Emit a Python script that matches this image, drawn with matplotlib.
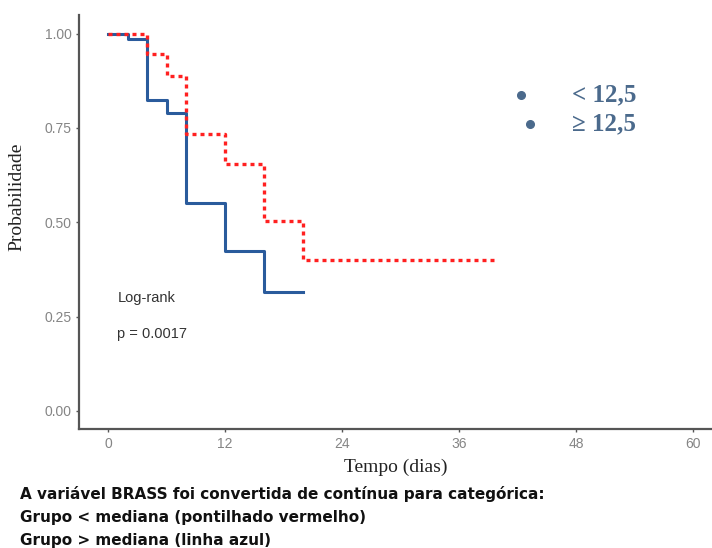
import numpy as np
import matplotlib.pyplot as plt

# Curvas de Kaplan-Meier (tempo em dias, probabilidade de sobrevida)
tempo_azul = [0, 2, 4, 6, 8, 12, 16, 20]
prob_azul = [1.0, 0.986, 0.825, 0.79, 0.55, 0.423, 0.316, 0.316]

tempo_verm = [0, 4, 6, 8, 12, 16, 20, 40]
prob_verm = [1.0, 0.947, 0.888, 0.734, 0.654, 0.503, 0.40, 0.40]

xticks = [0, 12, 24, 36, 48, 60]
yticks = [0.00, 0.25, 0.50, 0.75, 1.00]
legenda = ['< 12,5', '≥ 12,5']

fig = plt.figure(figsize=(7.12, 5.48), dpi=100)
ax = fig.add_axes([0.111, 0.217, 0.889, 0.756])

ax.step(tempo_azul, prob_azul, where='post', color='#2a5b9c', linewidth=2.2)
ax.step(tempo_verm, prob_verm, where='post', color='#ff2020', linewidth=2.4,
        linestyle=(0, (1.2, 1.2)))

ax.set_xlim(-2.97, 61.9)
ax.set_ylim(-0.048, 1.05)
ax.set_xticks(xticks)
ax.set_yticks(yticks)
ax.set_yticklabels(['%.2f' % v for v in yticks])
for lbl in ax.get_xticklabels() + ax.get_yticklabels():
    lbl.set_family('Liberation Sans')

for lado in ['top', 'right']:
    ax.spines[lado].set_visible(False)
for lado in ['left', 'bottom']:
    ax.spines[lado].set_color('#555555')
    ax.spines[lado].set_linewidth(1.6)
ax.tick_params(length=2.5, width=1, color='#555555', labelcolor='#858585',
               labelsize=10, pad=3)

ax.set_xlabel('Tempo (dias)', family='Liberation Serif', fontsize=14,
              color='#222222', labelpad=6)
ax.set_ylabel('Probabilidade', family='Liberation Serif', fontsize=14,
              color='#222222')
ax.yaxis.set_label_coords(-0.085, 0.56)

ax.text(0.95, 0.30, 'Log-rank', family='Liberation Sans', fontsize=10.5,
        color='#333333', va='center')
ax.text(0.95, 0.205, 'p = 0.0017', family='Liberation Sans', fontsize=10.5,
        color='#333333', va='center')

# legenda manual com marcadores
cor_leg = '#4b6a8c'
fig.add_artist(plt.Line2D([521 / 712], [1 - 95 / 548], marker='o',
                          markersize=5.5, color=cor_leg, linestyle='none'))
fig.add_artist(plt.Line2D([530 / 712], [1 - 124 / 548], marker='o',
                          markersize=5.5, color=cor_leg, linestyle='none'))
fig.text(572 / 712, 1 - 95 / 548, legenda[0], family='Liberation Serif',
         fontsize=18, fontweight='bold', color=cor_leg, va='center')
fig.text(572 / 712, 1 - 124 / 548, legenda[1], family='Liberation Serif',
         fontsize=18, fontweight='bold', color=cor_leg, va='center')

nota = ['A variável BRASS foi convertida de contínua para categórica:',
        'Grupo < mediana (pontilhado vermelho)',
        'Grupo > mediana (linha azul)']
for i, linha in enumerate(nota):
    fig.text(20 / 712, 1 - (494 + 23.5 * i) / 548, linha, family='DejaVu Sans',
             fontsize=11, fontweight='bold', color='#111111', va='center')

fig.savefig('out.png', dpi=100)
